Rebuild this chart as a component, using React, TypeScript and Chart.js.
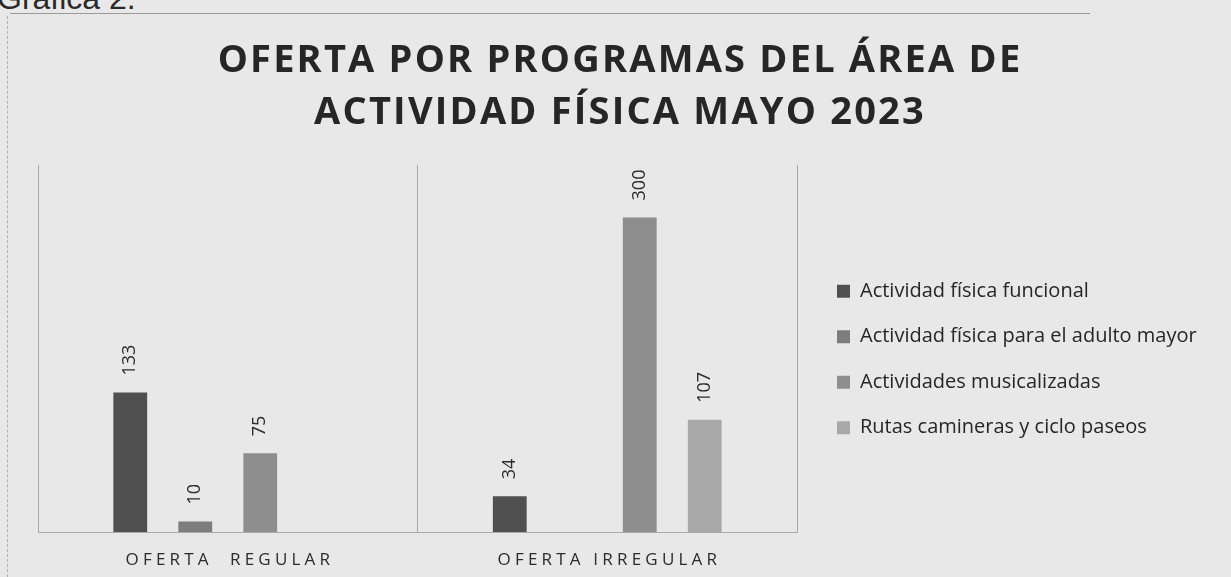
import React, { useEffect, useRef } from 'react';
import { Chart, registerables } from 'chart.js';

Chart.register(...registerables);

const categories = ['OFERTA  REGULAR', 'OFERTA IRREGULAR'];
const seriesNames = [
  'Actividad física funcional',
  'Actividad física para el adulto mayor',
  'Actividades musicalizadas',
  'Rutas camineras y ciclo paseos',
];
const funcional: (number | null)[] = [133, 34];
const adultoMayor: (number | null)[] = [10, null];
const musicalizadas: (number | null)[] = [75, 300];
const rutas: (number | null)[] = [null, 107];
const seriesColors = ['#505050', '#7d7d7d', '#8e8e8e', '#a8a8a8'];
const titleLines = ['OFERTA POR PROGRAMAS DEL ÁREA DE', 'ACTIVIDAD FÍSICA MAYO 2023'];
const yMax = 350;

const FONT = '"Open Sans", "Noto Sans", sans-serif';
const LEGEND_WIDTH = 405;
const LEGEND_GAP = 14.5;
const LEGEND_SHIFT_Y = 11;
const LEGEND_EXTRA_RIGHT = 25;
const TITLE_SPACING = '2.2px';

const layoutTweaks = {
  id: 'layoutTweaks',
  beforeLayout(chart: any) {
    const lg = chart.legend;
    if (lg && !lg.__patched) {
      const fit = lg.fit.bind(lg);
      lg.fit = function () {
        fit();
        lg.width = LEGEND_WIDTH;
      };
      lg.__patched = true;
    }
    const tb = chart.titleBlock;
    if (tb && !tb.__patched) {
      const draw = tb.draw.bind(tb);
      tb.draw = function () {
        const c = chart.ctx;
        c.save();
        c.letterSpacing = TITLE_SPACING;
        draw();
        c.restore();
      };
      tb.__patched = true;
    }
  },
  afterLayout(chart: any) {
    const lg = chart.legend;
    if (lg) {
      lg.left += LEGEND_GAP;
      lg.right += LEGEND_EXTRA_RIGHT;
      lg.top += LEGEND_SHIFT_Y;
      lg.bottom += LEGEND_SHIFT_Y;
    }
  },
};

const valueLabelsPlugin = {
  id: 'valueLabels',
  afterDatasetsDraw(chart: any) {
    const { ctx } = chart;
    ctx.save();
    ctx.font = `18px ${FONT}`;
    ctx.fillStyle = '#2b2b2b';
    ctx.textAlign = 'left';
    ctx.textBaseline = 'middle';
    chart.data.datasets.forEach((ds: any, di: number) => {
      const meta = chart.getDatasetMeta(di);
      meta.data.forEach((bar: any, i: number) => {
        const v = ds.data[i];
        if (v === null || v === undefined) return;
        ctx.save();
        ctx.translate(bar.x, bar.y - 17);
        ctx.rotate(-Math.PI / 2);
        ctx.fillText(String(v), 0, 0);
        ctx.restore();
      });
    });
    ctx.restore();
  },
};

const categoryLabelsPlugin = {
  id: 'categoryLabels',
  afterDraw(chart: any) {
    const { ctx } = chart;
    const x = chart.scales.x;
    ctx.save();
    ctx.font = `17px ${FONT}`;
    ctx.fillStyle = '#2b2b2b';
    (ctx as any).letterSpacing = '4.2px';
    ctx.textAlign = 'center';
    ctx.textBaseline = 'middle';
    categories.forEach((c, i) => {
      ctx.fillText(c, x.getPixelForValue(i) + 2.1, chart.chartArea.bottom + 28);
    });
    ctx.restore();
  },
};

function BarChart() {
  const ref = useRef<HTMLCanvasElement | null>(null);
  useEffect(() => {
    if (!ref.current) return;
    const data = [funcional, adultoMayor, musicalizadas, rutas];
    const chart = new Chart(ref.current, {
      type: 'bar',
      data: {
        labels: categories,
        datasets: seriesNames.map((name, i) => ({
          label: name,
          data: data[i],
          backgroundColor: seriesColors[i],
          borderWidth: 0,
          categoryPercentage: 0.685,
          barPercentage: 0.52,
        })),
      },
      options: {
        animation: false,
        responsive: false,
        maintainAspectRatio: false,
        layout: { padding: { left: 38, right: 29, top: 0, bottom: 0 } },
        plugins: {
          title: {
            display: true,
            text: titleLines,
            color: '#262626',
            font: { family: FONT, size: 38, weight: 'bold', lineHeight: 52 / 38 },
            padding: { top: 35.3, bottom: 25.7 },
          },
          legend: {
            display: true,
            position: 'right',
            align: 'center',
            fullSize: false,
            labels: {
              boxWidth: 13,
              boxHeight: 13,
              padding: 25.5,
              color: '#262626',
              font: { family: FONT, size: 20, lineHeight: 1 },
            },
          },
          tooltip: { enabled: false },
        },
        scales: {
          x: {
            grid: { offset: true, color: '#a9a9a9', drawTicks: false, lineWidth: 1 },
            border: { display: true, color: '#a9a9a9' },
            ticks: { display: false },
            afterFit: (s: any) => {
              s.height = 45;
            },
          },
          y: {
            display: false,
            min: 0,
            max: yMax,
          },
        },
      } as any,
      plugins: [layoutTweaks, valueLabelsPlugin, categoryLabelsPlugin],
    });
    return () => chart.destroy();
  }, []);
  return <canvas ref={ref} width={1231} height={577} style={{ position: 'absolute', left: 0, top: 0 }} />;
}

export default function App() {
  return (
    <div
      style={{
        position: 'fixed',
        left: 0,
        top: 0,
        width: 1231,
        height: 577,
        background: '#e8e8e8',
        overflow: 'hidden',
      }}
    >
      <div
        style={{
          position: 'absolute',
          left: -3,
          top: -18,
          fontFamily: '"Liberation Sans", Arial, sans-serif',
          fontSize: 32,
          color: '#2a2a2a',
          lineHeight: '32px',
          whiteSpace: 'nowrap',
        }}
      >
        Gráfica 2.
      </div>
      <div style={{ position: 'absolute', left: 10, top: 13, width: 1080, height: 0, borderTop: '1px solid #9a9a9a' }} />
      <div style={{ position: 'absolute', left: 7, top: 16, width: 0, height: 561, borderLeft: '1px dashed #b0b0b0' }} />
      <BarChart />
    </div>
  );
}
